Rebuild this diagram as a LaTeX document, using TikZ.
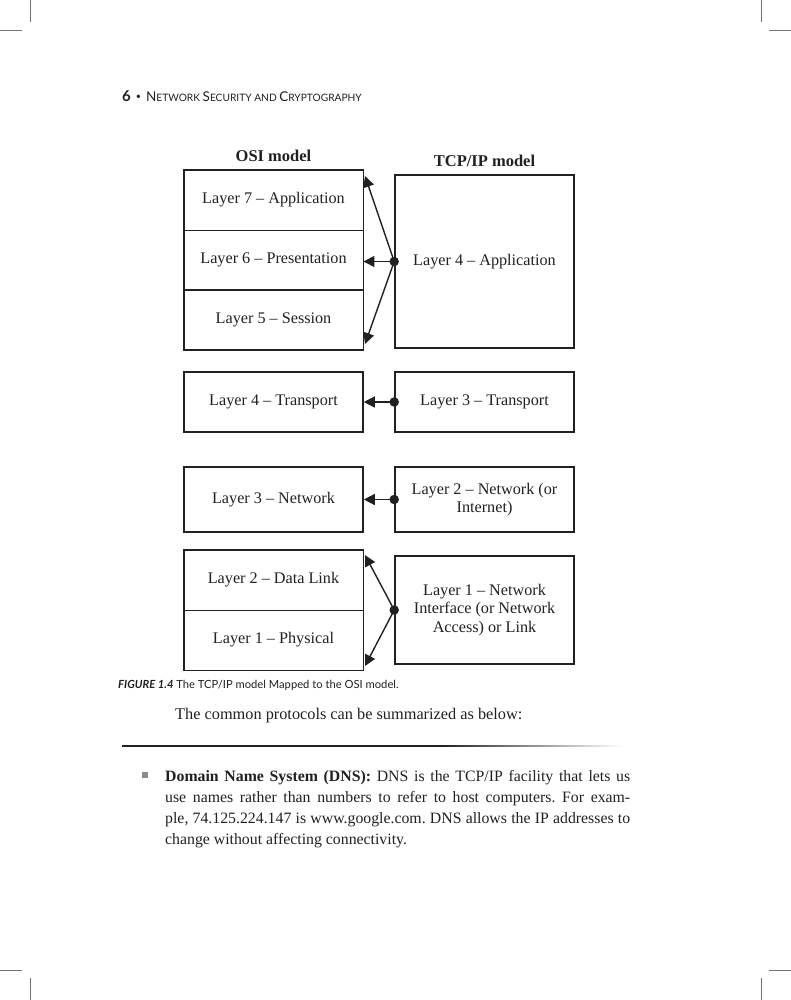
\documentclass[tikz,border=0pt]{standalone}
\usepackage{fontspec}
\setmainfont{Liberation Serif}
\newfontfamily\capfont{Lato}
\usetikzlibrary{arrows.meta}
\definecolor{ink}{gray}{0.13}
\frenchspacing
\tikzset{
  lay/.style={draw=ink, line width=0.9pt, minimum width=179pt, minimum height=60pt, inner sep=0pt, font=\fontsize{16.2}{18.5}\selectfont, text=ink, align=center},
  grp/.style={draw=ink, line width=1.6pt},
  tbox/.style={draw=ink, line width=1.6pt, minimum width=179pt, inner sep=0pt, font=\fontsize{16.2}{18.5}\selectfont, text=ink, align=center},
  dotn/.style={circle, fill=ink, minimum size=9.5pt, inner sep=0pt},
  arr/.style={draw=ink, line width=1.4pt, -{Triangle[length=11pt,width=11pt]}},
  crop/.style={draw=black!55, line width=0.6pt},
  hdrtitle/.style={font=\fontsize{16.5}{18}\selectfont\bfseries, text=ink},
  introline/.style={anchor=base west, inner sep=0pt, font=\fontsize{16.3}{21}\selectfont, text=ink},
  bodyline/.style={anchor=base west, inner sep=0pt, font=\fontsize{15.8}{21}\selectfont, text=ink},
}
\begin{document}
\begin{tikzpicture}[x=1pt,y=-1pt]
\useasboundingbox (0,0) rectangle (791,1000);
\fill[white] (0,0) rectangle (791,1000);
% crop marks
\draw[crop] (30,0) -- (30,22);
\draw[crop] (0,30) -- (22,30);
\draw[crop] (761,0) -- (761,22);
\draw[crop] (769,30) -- (791,30);
\draw[crop] (30,978) -- (30,1000);
\draw[crop] (0,970) -- (22,970);
\draw[crop] (761,978) -- (761,1000);
\draw[crop] (769,970) -- (791,970);
% running head
\node[anchor=base west, inner sep=0pt, text=ink, font=\capfont] (head) at (122,102)
  {{\fontsize{15}{15}\selectfont\bfseries 6}\hspace{5pt}\raisebox{2.5pt}{\fontsize{9}{9}\selectfont\textbullet}\hspace{5pt}{\fontsize{13.5}{14}\selectfont N}{\fontsize{10.2}{11}\selectfont ETWORK} {\fontsize{13.5}{14}\selectfont S}{\fontsize{10.2}{11}\selectfont ECURITY AND} {\fontsize{13.5}{14}\selectfont C}{\fontsize{10.2}{11}\selectfont RYPTOGRAPHY}};
% titles
\node[hdrtitle, anchor=base] (osit) at (273.5,162) {OSI model};
\node[hdrtitle, anchor=base] (tcpt) at (484.5,167) {TCP/IP model};
% OSI group 1
\node[lay] (l7) at (273.5,200) {Layer 7 -- Application};
\node[lay] (l6) at (273.5,260) {Layer 6 -- Presentation};
\node[lay] (l5) at (273.5,319.5) {Layer 5 -- Session};
\draw[grp] (l7.north west) rectangle (l5.south east);
% OSI transport
\node[lay, line width=1.6pt] (l4) at (273.5,402) {Layer 4 -- Transport};
% OSI network
\node[lay, line width=1.6pt, minimum height=65pt] (l3) at (273.5,499.5) {Layer 3 -- Network};
% OSI group bottom
\node[lay] (l2) at (273.5,580) {Layer 2 -- Data Link};
\node[lay] (l1) at (273.5,640) {Layer 1 -- Physical};
\draw[grp] (l2.north west) rectangle (l1.south east);
% TCP/IP boxes
\node[tbox, minimum height=173pt] (t4) at (484.5,261.5) {Layer 4 -- Application};
\node[tbox, minimum height=60pt] (t3) at (484.5,402) {Layer 3 -- Transport};
\node[tbox, minimum height=65pt] (t2) at (484.5,499.5) {Layer 2 -- Network (or\\Internet)};
\node[tbox, minimum height=108pt] (t1) at (484.5,610) {Layer 1 -- Network\\Interface (or Network\\Access) or Link};
% connector targets
\coordinate (a7) at (365,176);
\coordinate (a5) at (365,344);
\coordinate (a2) at (365,555);
\coordinate (a1) at (365,666);
% dots
\node[dotn] (d4) at (t4.west) {};
\node[dotn] (d3) at (t3.west) {};
\node[dotn] (d2) at (t2.west) {};
\node[dotn] (d1) at (t1.west) {};
% arrows
\draw[arr] (d4.center) -- (a7);
\draw[arr] (d4.center) -- (d4.center -| l6.east);
\draw[arr] (d4.center) -- (a5);
\draw[arr] (d3.center) -- (d3.center -| l4.east);
\draw[arr] (d2.center) -- (d2.center -| l3.east);
\draw[arr] (d1.center) -- (a2);
\draw[arr] (d1.center) -- (a1);
% caption
\node[anchor=base west, inner sep=0pt, text=ink, font=\capfont\fontsize{11.2}{13}\selectfont] (cap) at (118,688)
  {\textbf{\textit{FIGURE 1.4}} The TCP/IP model Mapped to the OSI model.};
% intro sentence
\node[introline] (intro) at (175,719) {The common protocols can be summarized as below:};
% fading rule
\fill[ink] (122,745) rectangle (441,747.2);
\foreach \i in {0,...,44} {
  \pgfmathsetmacro{\pc}{100-\i*100/45}
  \fill[ink!\pc!white] ({440+\i*4},745) rectangle ({444.5+\i*4},747.2);
}
% bullet
\fill[black!45] (142,772) rectangle (148,778);
\node[bodyline] (b1) at (165,781) {\makebox[465pt][s]{\textbf{Domain Name System (DNS):} DNS is the TCP/IP facility that lets us}};
\node[bodyline] (b2) at (165,802) {\makebox[465pt][s]{use names rather than numbers to refer to host computers. For exam-}};
\node[bodyline] (b3) at (165,823) {\makebox[465pt][s]{ple, 74.125.224.147 is www.google.com. DNS allows the IP addresses to}};
\node[bodyline] (b4) at (165,844) {change without affecting connectivity.};
\end{tikzpicture}
\end{document}
